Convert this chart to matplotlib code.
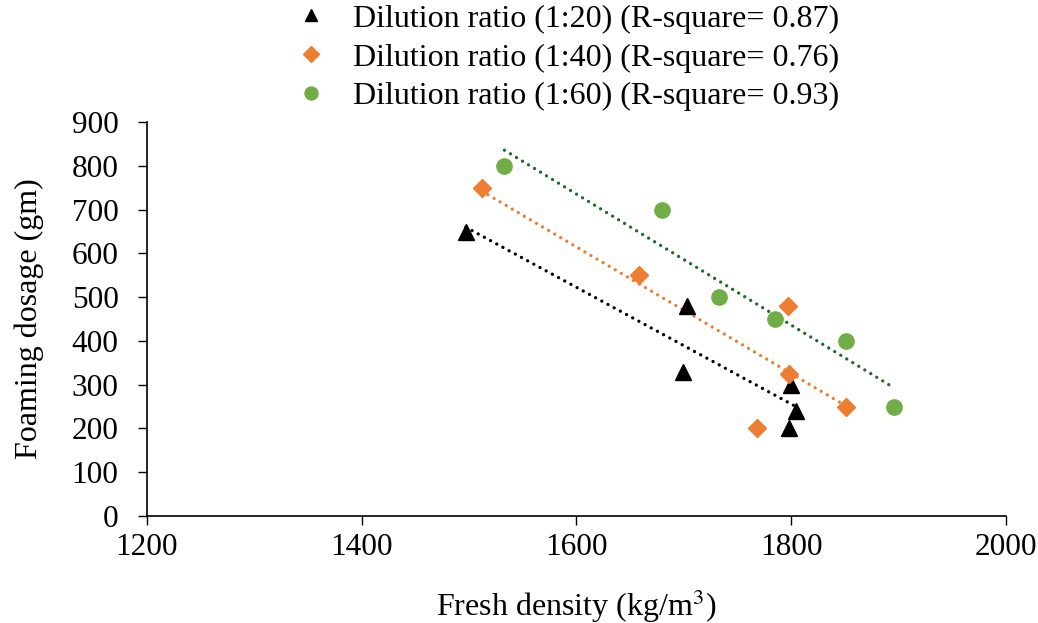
import numpy as np
import matplotlib
matplotlib.use("Agg")
import matplotlib.pyplot as plt

plt.rcParams["font.family"] = ["Liberation Serif", "DejaVu Serif"]
plt.rcParams["mathtext.fontset"] = "stix"

# data
density_20 = [1497, 1703, 1699, 1800, 1805, 1798]
dosage_20 = [650, 480, 330, 300, 240, 200]

density_40 = [1512, 1658, 1797, 1798, 1851, 1768]
dosage_40 = [750, 550, 480, 325, 250, 200]

density_60 = [1533, 1680, 1733, 1785, 1851, 1896]
dosage_60 = [800, 700, 500, 450, 400, 250]

labels = [
    "Dilution ratio (1:20) (R-square= 0.87)",
    "Dilution ratio (1:40) (R-square= 0.76)",
    "Dilution ratio (1:60) (R-square= 0.93)",
]
x_ticks = [1200, 1400, 1600, 1800, 2000]
y_ticks = [0, 100, 200, 300, 400, 500, 600, 700, 800, 900]

series = [
    (density_20, dosage_20, "^", "black", "black", 11),
    (density_40, dosage_40, "D", "#ED7D31", "#ED7D31", 9),
    (density_60, dosage_60, "o", "#70AD47", "#1E6B2A", 11),
]

fig = plt.figure(figsize=(10.38, 6.23), dpi=100)
ax = fig.add_axes([0.1416, 0.1717, 0.8274, 0.6323])

handles = []
for (x, y, marker, color, line_color, ms), label in zip(series, labels):
    h, = ax.plot(x, y, linestyle="none", marker=marker, color=color,
                 markersize=ms, label=label, zorder=3)
    handles.append(h)
    # linear trendline across the series range
    k, b = np.polyfit(x, y, 1)
    xs = np.array([min(x), max(x)])
    ax.plot(xs, k * xs + b, color=line_color, linewidth=2.4,
            linestyle=(0, (0.01, 2.1)), dash_capstyle="round", zorder=2)

ax.set_xlim(1200, 2000)
ax.set_ylim(0, 900)
ax.set_xticks(x_ticks)
ax.set_yticks(y_ticks)
ax.tick_params(labelsize=22.5, length=6.5, width=1, direction="out", colors="black")
ax.tick_params(axis="x", pad=6)
ax.tick_params(axis="y", pad=14)
for side in ["top", "right"]:
    ax.spines[side].set_visible(False)
for side in ["left", "bottom"]:
    ax.spines[side].set_linewidth(1.2)

ax.set_xlabel("Fresh density (kg/m$^3$)", fontsize=23, labelpad=18)
ax.set_ylabel("Foaming dosage (gm)", fontsize=23, labelpad=20)

ax.legend(handles=handles, loc="upper center", bbox_to_anchor=(0.545, 1.024),
          bbox_transform=fig.transFigure, frameon=False, fontsize=23,
          handletextpad=0.7, labelspacing=0.3, handlelength=1.2,
          markerscale=0.85, borderpad=0.1)

fig.savefig("out.png", dpi=100)
